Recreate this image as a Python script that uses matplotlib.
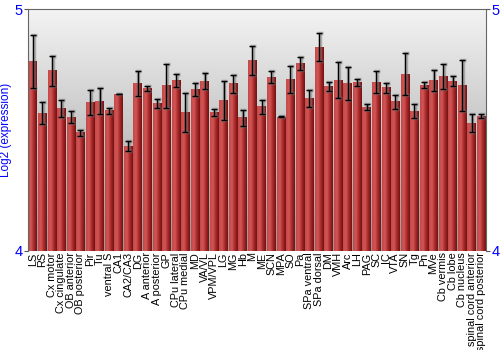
import numpy as np
import matplotlib
matplotlib.use('Agg')
import matplotlib.pyplot as plt
from matplotlib.colors import LinearSegmentedColormap

plt.rcParams['font.family'] = ['Liberation Sans', 'DejaVu Sans']

regions = ['LS', 'RS', 'Cx motor', 'Cx cingulate', 'OB anterior', 'OB posterior', 'Pir', 'Tu',
           'ventral S', 'CA1', 'CA2/CA3', 'DG', 'A anterior', 'A posterior', 'GP', 'CPu lateral',
           'CPu medial', 'MD', 'VA/VL', 'VPM/VPL', 'LG', 'MG', 'Hb', 'M', 'ME', 'SCN', 'MPA', 'SO',
           'Pa', 'SPa ventral', 'SPa dorsal', 'DM', 'VMH', 'Arc', 'LH', 'PAG', 'SC', 'IC', 'VTA',
           'SN', 'Tg', 'Pn', 'MVe', 'Cb vermis', 'Cb lobe', 'Cb nucleus', 'spinal cord anterior',
           'spinal cord posterior']
expr = [4.782, 4.569, 4.745, 4.588, 4.554, 4.489, 4.614, 4.620, 4.579, 4.649, 4.434, 4.694,
        4.672, 4.609, 4.683, 4.705, 4.574, 4.667, 4.702, 4.573, 4.621, 4.691, 4.550, 4.788,
        4.596, 4.718, 4.554, 4.709, 4.774, 4.632, 4.843, 4.680, 4.707, 4.693, 4.696, 4.594,
        4.698, 4.675, 4.617, 4.731, 4.577, 4.686, 4.705, 4.722, 4.702, 4.683, 4.529, 4.557]
err = [0.110, 0.046, 0.063, 0.036, 0.025, 0.012, 0.053, 0.054, 0.013, 0.002, 0.019, 0.052,
       0.011, 0.018, 0.091, 0.028, 0.081, 0.028, 0.032, 0.014, 0.080, 0.036, 0.032, 0.061,
       0.030, 0.024, 0.002, 0.054, 0.026, 0.035, 0.058, 0.017, 0.076, 0.067, 0.016, 0.012,
       0.045, 0.020, 0.028, 0.086, 0.029, 0.014, 0.043, 0.051, 0.021, 0.105, 0.039, 0.008]

x = np.arange(len(regions))
ymin, ymax = 4, 5

fig = plt.figure(figsize=(5, 3.5), dpi=100)
ax = fig.add_axes([0.056, 0.283, 0.916, 0.691])
ax.set_xlim(-0.5, len(regions) - 0.5)
ax.set_ylim(ymin, ymax)

# background gradient (light at top, darker at bottom)
bg = LinearSegmentedColormap.from_list('bg', ['#999999', '#f3f3f3'])
ax.imshow(np.linspace(0, 1, 256).reshape(-1, 1), cmap=bg, aspect='auto', origin='lower',
          extent=[-0.5, len(regions) - 0.5, ymin, ymax], zorder=0)

# bars with horizontal red gradient
red = LinearSegmentedColormap.from_list('red', ['#c44848', '#d25656', '#a82828', '#701212'])
grad = np.linspace(0, 1, 64).reshape(1, -1)
bars = ax.bar(x, [v - ymin for v in expr], bottom=ymin, width=0.9, color='#a33', zorder=1,
              linewidth=0)
for b in bars:
    x0, w, h = b.get_x(), b.get_width(), b.get_height()
    ax.imshow(grad, cmap=red, aspect='auto', extent=[x0, x0 + w, ymin, ymin + h], zorder=2)

# error bars with soft grey shadow
ax.errorbar(x + 0.08, expr, yerr=err, fmt='none', ecolor='#777777', elinewidth=2.5,
            capsize=2.5, capthick=2.5, alpha=0.5, zorder=3)
ax.errorbar(x, expr, yerr=err, fmt='none', ecolor='black', elinewidth=1,
            capsize=2.5, capthick=1, zorder=4)

ax.set_xticks(x)
ax.set_xticklabels(regions, rotation=90, fontsize=7.8)
ax.tick_params(axis='x', length=0, pad=1)

ax.set_yticks([4, 5])
ax.tick_params(axis='y', colors='#555555', labelcolor='blue', labelsize=10.5, length=3,
               right=True, labelright=True, pad=1)
ax.set_ylabel('Log2 (expression)', color='blue', fontsize=8.5, labelpad=2)

for s in ['top', 'left', 'right']:
    ax.spines[s].set_color('#666666')
ax.spines['bottom'].set_visible(False)

fig.savefig('out.png', dpi=100)
